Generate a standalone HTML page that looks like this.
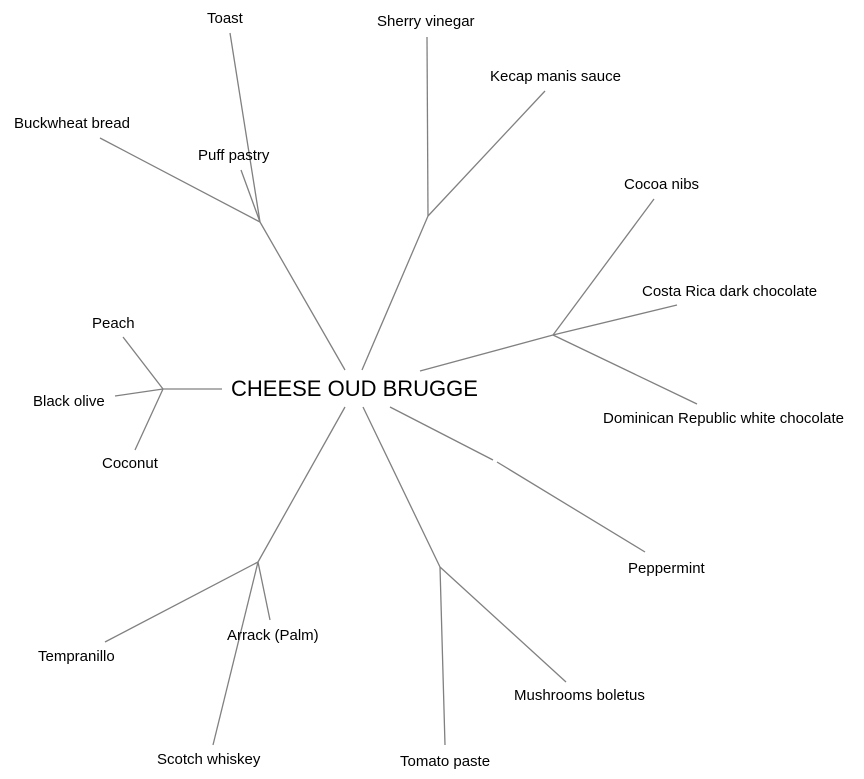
<!DOCTYPE html>
<html><head><meta charset="utf-8"><style>
html,body{margin:0;padding:0;background:#fff;}
svg{display:block}
text{font-family:"Liberation Sans",Arial,sans-serif;font-size:15px;fill:#000}
</style></head><body>
<svg width="864" height="779" viewBox="0 0 864 779" xmlns="http://www.w3.org/2000/svg">
<g stroke="#808080" stroke-width="1.3" fill="none">
<line x1="345" y1="370" x2="260" y2="222"/>
<line x1="260" y1="222" x2="230" y2="33"/>
<line x1="260" y1="222" x2="100" y2="138"/>
<line x1="260" y1="222" x2="241" y2="170"/>
<line x1="362" y1="370" x2="428" y2="216"/>
<line x1="428" y1="216" x2="427" y2="37"/>
<line x1="428" y1="216" x2="545" y2="91"/>
<line x1="420" y1="371" x2="553" y2="335"/>
<line x1="553" y1="335" x2="654" y2="199"/>
<line x1="553" y1="335" x2="677" y2="305"/>
<line x1="553" y1="335" x2="697" y2="404"/>
<line x1="390" y1="407" x2="493" y2="460"/>
<line x1="497" y1="462" x2="645" y2="552"/>
<line x1="363" y1="407" x2="440" y2="567"/>
<line x1="440" y1="567" x2="445" y2="745"/>
<line x1="440" y1="567" x2="566" y2="682"/>
<line x1="345" y1="407" x2="258" y2="562"/>
<line x1="258" y1="562" x2="105" y2="642"/>
<line x1="258" y1="562" x2="270" y2="620"/>
<line x1="258" y1="562" x2="213" y2="745"/>
<line x1="222" y1="389" x2="163" y2="389"/>
<line x1="163" y1="389" x2="123" y2="337"/>
<line x1="163" y1="389" x2="115" y2="396"/>
<line x1="163" y1="389" x2="135" y2="450"/>
</g>
<rect x="228" y="374" width="252" height="30" fill="#fff"/>
<text x="231" y="396" style="font-size:22px">CHEESE OUD BRUGGE</text>
<text x="207" y="23">Toast</text>
<text x="377" y="26">Sherry vinegar</text>
<text x="490" y="81">Kecap manis sauce</text>
<rect x="622" y="64" width="30" height="22" fill="#fff"/>
<text x="14" y="128">Buckwheat bread</text>
<rect x="130" y="112" width="20" height="20" fill="#fff"/>
<text x="198" y="160">Puff pastry</text>
<text x="624" y="189">Cocoa nibs</text>
<text x="642" y="296">Costa Rica dark chocolate</text>
<text x="603" y="423">Dominican Republic white chocolate</text>
<text x="92" y="328">Peach</text>
<text x="33" y="406">Black olive</text>
<text x="102" y="468">Coconut</text>
<text x="628" y="573">Peppermint</text>
<text x="38" y="661">Tempranillo</text>
<rect x="117" y="646" width="14" height="20" fill="#fff"/>
<text x="227" y="640">Arrack (Palm)</text>
<text x="514" y="700">Mushrooms boletus</text>
<text x="157" y="764">Scotch whiskey</text>
<text x="400" y="766">Tomato paste</text>
</svg>
</body></html>
